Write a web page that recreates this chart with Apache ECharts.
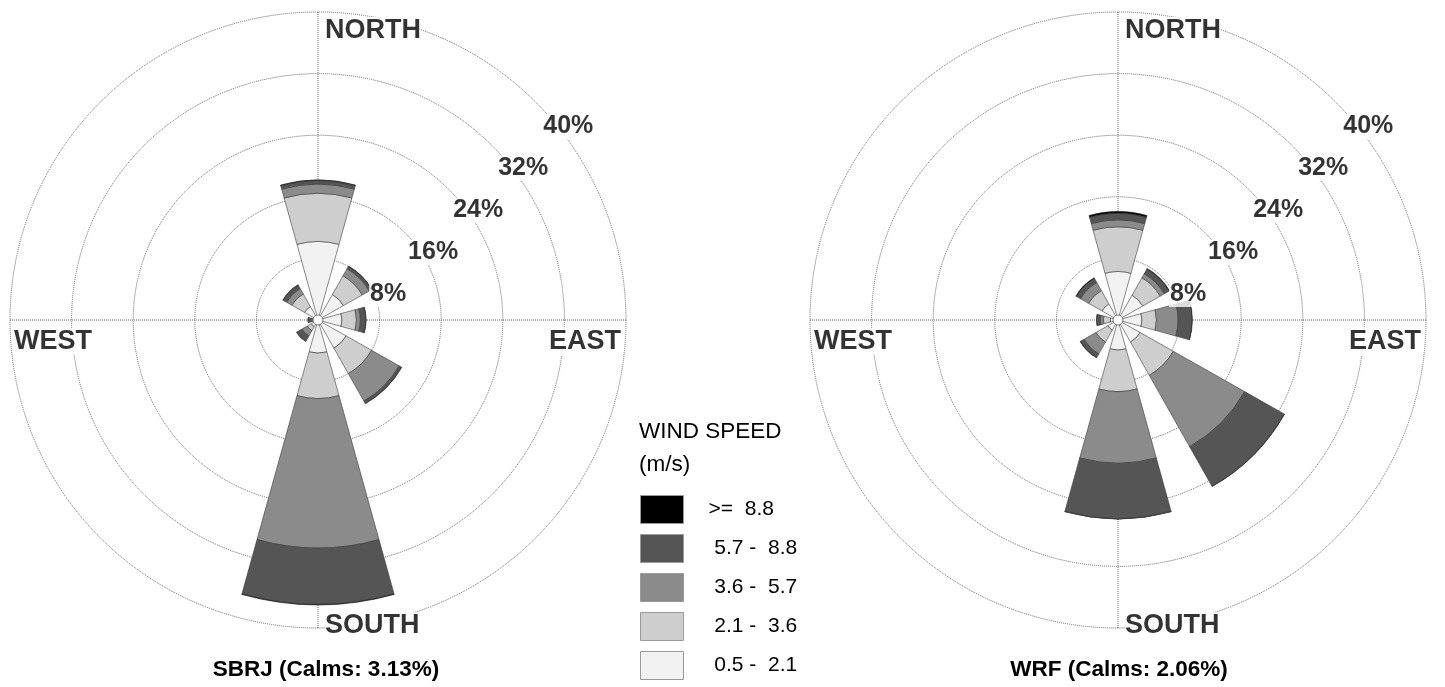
<!DOCTYPE html>
<html>
<head>
<meta charset="utf-8">
<title>Wind roses SBRJ / WRF</title>
<script src="https://cdn.jsdelivr.net/npm/echarts@6/dist/echarts.min.js"></script>
<style>
  html, body { margin: 0; padding: 0; background: #ffffff; }
  #chart { width: 1445px; height: 687px; }
</style>
</head>
<body>
<div id="chart"></div>
<script>
// ---- data -------------------------------------------------------------
const DIRECTIONS = ['N', 'NE', 'E', 'SE', 'S', 'SW', 'W', 'NW'];

// Speed classes, innermost first (legend shows them fastest first)
const SPEED_CLASSES = [' 0.5 -  2.1', ' 2.1 -  3.6', ' 3.6 -  5.7', ' 5.7 -  8.8', '>=  8.8'];

// Frequency (%) per direction for each speed class - SBRJ station
const SBRJ_05_21 = [10.2, 3.8, 3.1, 4.2, 4.3, 1.0, 0.5, 2.0];
const SBRJ_21_36 = [6.25, 2.8, 1.9, 3.8, 5.9, 0.6, 0.2, 1.9];
const SBRJ_36_57 = [1.2, 1.05, 0.5, 4.1, 19.4, 0.8, 0.2, 0.8];
const SBRJ_57_88 = [0.45, 0.35, 0.7, 0.35, 7.3, 0.8, 0.4, 0.5];
const SBRJ_GE_88 = [0.1, 0.05, 0.05, 0.05, 0.1, 0, 0, 0.05];

// Frequency (%) per direction for each speed class - WRF model
const WRF_05_21 = [6.3, 3.7, 3.1, 3.3, 3.9, 1.5, 1.0, 2.4];
const WRF_21_36 = [5.8, 2.6, 1.9, 4.95, 5.4, 1.8, 0.9, 2.0];
const WRF_36_57 = [0.9, 0.6, 2.8, 10.65, 9.3, 1.75, 0.4, 1.2];
const WRF_57_88 = [0.85, 0.7, 1.8, 5.9, 7.2, 0.55, 0.5, 0.6];
const WRF_GE_88 = [0.25, 0.1, 0.05, 0.05, 0.05, 0.05, 0, 0.1];

const CALMS = { SBRJ: 3.13, WRF: 2.06 };

// Rings of the frequency grid and their labels
const RING_VALUES = [8, 16, 24, 32, 40];
const RING_LABELS = ['8%', '16%', '24%', '32%', '40%'];
const COMPASS_LABELS = ['NORTH', 'EAST', 'SOUTH', 'WEST'];
const COMPASS_ANGLES = [0, 90, 180, 270];

// ---- layout & style ---------------------------------------------------
const FONT = '"Liberation Sans", Arial, Helvetica, sans-serif';
const ROSE_RADIUS = 308;
const LEFT_CENTER = [318, 320];
const RIGHT_CENTER = [1118, 320];
const CLASS_COLORS = ['#f2f2f2', '#cecece', '#8b8b8b', '#555555', '#000000'];
const GRID_LINE = { type: 'dotted', color: '#666666', width: 1 };
const HIDDEN = 'rgba(0,0,0,0)';
const RING_LABEL_ANGLE = 47;       // ring percentages run up towards the north-east
const RING_LABEL_OFFSET = [25, 17];

// where each compass word sits relative to the point where its axis meets the outer ring
const COMPASS_LABEL_LAYOUT = [
  { align: 'left', offset: [7, 19] },
  { align: 'right', offset: [-5, 22] },
  { align: 'left', offset: [7, -2] },
  { align: 'left', offset: [4, 22] }
];

const chart = echarts.init(document.getElementById('chart'), null, { renderer: 'canvas' });

// Each rose uses two polar systems on the same spot: one for the dotted
// grid + text (value angle axis, 0 deg = north), one for the stacked petals.
function polarPair(center) {
  return [
    { center: center, radius: [0, ROSE_RADIUS] },
    { center: center, radius: [0, ROSE_RADIUS] }
  ];
}

function gridAngleAxis(polarIndex) {
  return {
    polarIndex, type: 'value', min: 0, max: 360, interval: 90,
    startAngle: 90, clockwise: true,
    axisLine: { show: false }, axisTick: { show: false }, axisLabel: { show: false },
    splitLine: { show: true, lineStyle: GRID_LINE }
  };
}
function gridRadiusAxis(polarIndex) {
  return {
    polarIndex, type: 'value', min: 0, max: 40, interval: 8,
    axisLine: { show: false }, axisTick: { show: false }, axisLabel: { show: false },
    splitLine: { show: true, lineStyle: GRID_LINE }
  };
}
function petalAngleAxis(polarIndex) {
  // eight 45-degree bands; first band centred on north
  return {
    polarIndex, type: 'category', data: DIRECTIONS,
    startAngle: 90 + 180 / DIRECTIONS.length, clockwise: true,
    axisLine: { show: false }, axisTick: { show: false }, axisLabel: { show: false },
    splitLine: { show: false }
  };
}
function petalRadiusAxis(polarIndex) {
  return {
    polarIndex, type: 'value', min: 0, max: 40,
    axisLine: { show: false }, axisTick: { show: false }, axisLabel: { show: false },
    splitLine: { show: false }
  };
}

function petalSeries(classValues, polarIndex, stack) {
  return SPEED_CLASSES.map((name, k) => ({
    type: 'bar', name, coordinateSystem: 'polar', polarIndex, stack,
    data: classValues[k],
    barWidth: '69%',
    silent: true,
    z: 3,
    itemStyle: { color: CLASS_COLORS[k], borderColor: '#3c3c3c', borderWidth: 0.6 }
  }));
}

function ringLabelSeries(polarIndex) {
  return {
    type: 'scatter', coordinateSystem: 'polar', polarIndex, silent: true, z: 6,
    symbol: 'circle', symbolSize: 1, itemStyle: { color: HIDDEN },
    data: RING_VALUES.map((v, i) => ({ value: [v, RING_LABEL_ANGLE], name: RING_LABELS[i] })),
    label: {
      show: true, position: 'top', distance: 0, offset: RING_LABEL_OFFSET,
      align: 'center', verticalAlign: 'middle',
      formatter: p => p.name,
      fontFamily: FONT, fontWeight: 'bold', fontSize: 25, color: '#000',
      // white backing so the figures stay readable over petals
      backgroundColor: '#ffffff', padding: [0, 1]
    }
  };
}

function compassSeries(polarIndex) {
  return {
    type: 'scatter', coordinateSystem: 'polar', polarIndex, silent: true, z: 6,
    symbol: 'circle', symbolSize: 1, itemStyle: { color: HIDDEN },
    data: COMPASS_LABELS.map((txt, i) => ({
      value: [RING_VALUES[RING_VALUES.length - 1], COMPASS_ANGLES[i]],
      name: txt,
      label: {
        show: true, position: 'top', distance: 0, verticalAlign: 'middle',
        align: COMPASS_LABEL_LAYOUT[i].align, offset: COMPASS_LABEL_LAYOUT[i].offset
      }
    })),
    label: {
      show: true, formatter: p => p.name,
      fontFamily: FONT, fontWeight: 'bold', fontSize: 27, color: '#000',
      backgroundColor: '#ffffff'
    }
  };
}

const option = {
  animation: false,
  backgroundColor: '#ffffff',
  title: [
    {
      text: 'WIND SPEED\n(m/s)', left: 639, top: 415, padding: 0,
      textStyle: { fontFamily: FONT, fontWeight: 'normal', fontSize: 22.5, lineHeight: 33, color: '#000' }
    },
    {
      text: 'SBRJ (Calms: ' + CALMS.SBRJ.toFixed(2) + '%)', left: 326, top: 658, textAlign: 'center', padding: 0,
      textStyle: { fontFamily: FONT, fontWeight: 'bold', fontSize: 22.5, color: '#000' }
    },
    {
      text: 'WRF (Calms: ' + CALMS.WRF.toFixed(2) + '%)', left: 1119, top: 658, textAlign: 'center', padding: 0,
      textStyle: { fontFamily: FONT, fontWeight: 'bold', fontSize: 22.5, color: '#000' }
    }
  ],
  legend: {
    orient: 'vertical', left: 640, top: 495, padding: 0,
    data: SPEED_CLASSES.slice().reverse(),
    icon: 'rect', itemWidth: 43, itemHeight: 28, itemGap: 10,
    selectedMode: false,
    itemStyle: { borderColor: '#9a9a9a', borderWidth: 1 },
    textStyle: { fontFamily: FONT, fontSize: 21, lineHeight: 22, color: '#000', padding: [0, 0, 0, 20] }
  },
  polar: [...polarPair(LEFT_CENTER), ...polarPair(RIGHT_CENTER)],
  angleAxis: [gridAngleAxis(0), petalAngleAxis(1), gridAngleAxis(2), petalAngleAxis(3)],
  radiusAxis: [gridRadiusAxis(0), petalRadiusAxis(1), gridRadiusAxis(2), petalRadiusAxis(3)],
  series: [
    ...petalSeries([SBRJ_05_21, SBRJ_21_36, SBRJ_36_57, SBRJ_57_88, SBRJ_GE_88], 1, 'sbrj'),
    ...petalSeries([WRF_05_21, WRF_21_36, WRF_36_57, WRF_57_88, WRF_GE_88], 3, 'wrf'),
    ringLabelSeries(0), compassSeries(0),
    ringLabelSeries(2), compassSeries(2)
  ],
  graphic: [LEFT_CENTER, RIGHT_CENTER].map(c => ({
    type: 'circle', z: 50,
    shape: { cx: c[0], cy: c[1], r: 5 },
    style: { fill: '#ffffff', stroke: '#555555', lineWidth: 0.8 }
  }))
};

chart.setOption(option);
</script>
</body>
</html>
